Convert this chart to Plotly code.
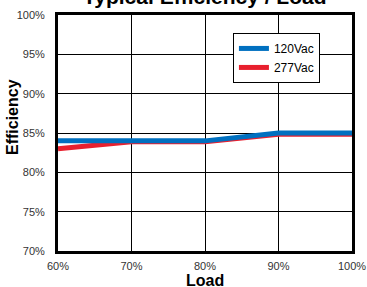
import plotly.graph_objects as go

load = [60, 70, 80, 90, 100]
eff_120 = [84.0, 84.0, 84.0, 85.0, 85.0]
eff_277 = [83.0, 83.9, 83.9, 84.85, 84.85]
x_ticks = [60, 70, 80, 90, 100]
x_labels = ["60%", "70%", "80%", "90%", "100%"]
y_ticks = [70, 75, 80, 85, 90, 95, 100]
y_labels = ["70%", "75%", "80%", "85%", "90%", "95%", "100%"]

fig = go.Figure()
fig.add_trace(go.Scatter(x=load, y=eff_277, mode="lines", name="277Vac",
                         line=dict(color="#E8202E", width=5)))
fig.add_trace(go.Scatter(x=load, y=eff_120, mode="lines", name="120Vac",
                         line=dict(color="#0070C0", width=5)))

font = "Liberation Sans, Arial, sans-serif"
tickfont = dict(size=11, color="#333333", family=font)
fig.update_layout(
    width=367, height=287,
    margin=dict(l=58, r=15, t=15, b=36, autoexpand=False),
    paper_bgcolor="white", plot_bgcolor="white",
    font=dict(family=font, size=11, color="#333333"),
    showlegend=True,
    legend=dict(x=0.595, y=0.924, xanchor="left", yanchor="top",
                bordercolor="black", borderwidth=1, bgcolor="white",
                traceorder="reversed",
                font=dict(size=12, color="black", family=font),
                tracegroupgap=0, itemwidth=30),
    xaxis=dict(range=[60, 100], tickvals=x_ticks, ticktext=x_labels,
               tickfont=tickfont, automargin=False,
               showgrid=True, gridcolor="black", gridwidth=1,
               showline=True, linecolor="black", linewidth=3, mirror=True,
               ticks="", zeroline=False, ticklabelstandoff=3),
    yaxis=dict(range=[70, 100], tickvals=y_ticks, ticktext=y_labels,
               tickfont=tickfont, automargin=False,
               showgrid=True, gridcolor="black", gridwidth=1,
               showline=True, linecolor="black", linewidth=3, mirror=True,
               ticks="", zeroline=False, ticklabelstandoff=8),
    annotations=[
        dict(text="<b>Typical Efficiency / Load</b>", xref="paper", yref="paper",
             x=0.5, y=1.0 + 5 / 236, xanchor="center", yanchor="bottom",
             showarrow=False, font=dict(size=21, color="black", family=font)),
        dict(text="<b>Load</b>", xref="paper", yref="paper",
             x=0.5, y=-(280 - 251) / 236, xanchor="center", yanchor="middle",
             showarrow=False, font=dict(size=16, color="black", family=font)),
        dict(text="<b>Efficiency</b>", xref="paper", yref="paper",
             x=-(58 - 13) / 294, y=(251 - 117) / 236, xanchor="center", yanchor="middle",
             textangle=-90, showarrow=False,
             font=dict(size=16, color="black", family=font)),
    ],
)

fig.write_html("out.html", config={"displayModeBar": False},
               post_script="document.body.style.margin='0';document.body.style.overflow='hidden';")
